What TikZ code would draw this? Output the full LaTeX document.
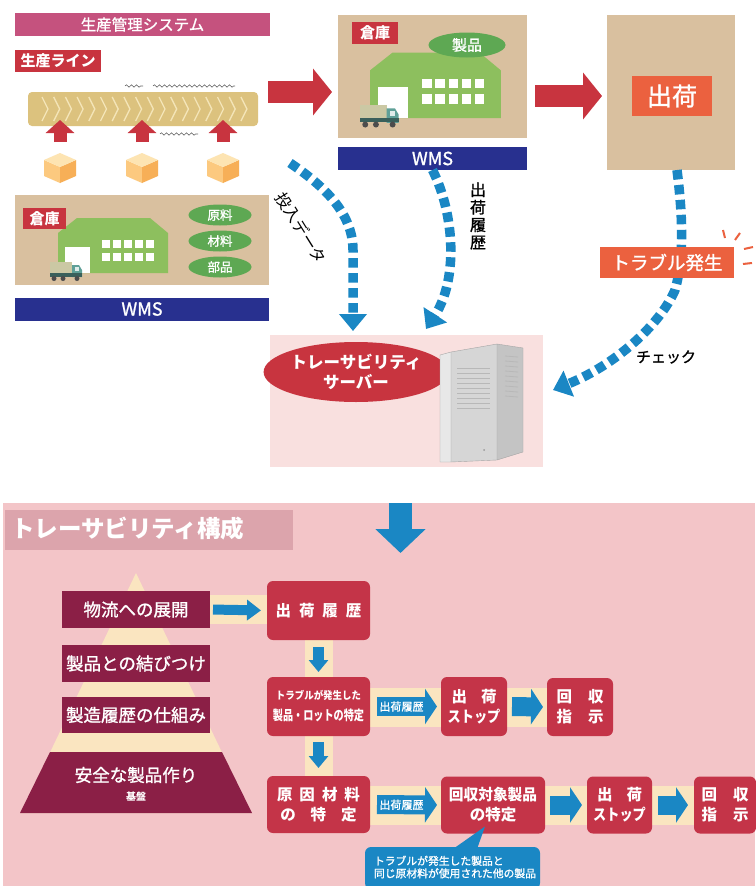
\documentclass[tikz,border=0pt]{standalone}
\usepackage{fontspec}
\setmainfont{Noto Sans CJK JP}
\newfontfamily\medfont{Noto Sans CJK JP}[FakeBold=1.2]
\usetikzlibrary{arrows.meta,calc,decorations.pathmorphing,shapes.geometric}

\definecolor{hdrpink}{HTML}{C5527E}
\definecolor{lblred}{HTML}{C8343F}
\definecolor{tanfill}{HTML}{D9C09F}
\definecolor{beltfill}{HTML}{DCC27E}
\definecolor{beltline}{HTML}{F4E5B8}
\definecolor{bldg}{HTML}{8DBF5E}
\definecolor{ovalg}{HTML}{5EA853}
\definecolor{wmsblue}{HTML}{28308F}
\definecolor{shipor}{HTML}{EB613F}
\definecolor{dotblue}{HTML}{1A87C4}
\definecolor{srvbg}{HTML}{F9E0DF}
\definecolor{bgpink}{HTML}{F3C5C8}
\definecolor{titlebar}{HTML}{DCA4AC}
\definecolor{wine}{HTML}{8B1F46}
\definecolor{flowred}{HTML}{C43448}
\definecolor{cream}{HTML}{FAE5C0}
\definecolor{cubetop}{HTML}{FDE4B2}
\definecolor{cubeleft}{HTML}{FCC97F}
\definecolor{cuberight}{HTML}{F7AF57}
\definecolor{truckbox}{HTML}{CBC8A4}
\definecolor{truckcab}{HTML}{5FA098}
\definecolor{srvfront}{HTML}{D6D6D6}
\definecolor{srvside}{HTML}{C4C4C4}
\definecolor{srvedge}{HTML}{E8E8E8}

\newcommand\fsz[2]{\fontsize{#1}{#2}\selectfont}
\newcommand\hsq[2]{\scalebox{#1}[1]{#2}}

\tikzset{
  plainbox/.style={inner sep=0pt, outer sep=0pt},
  tag/.style={plainbox, fill=lblred, text=white, font=\bfseries\fsz{15}{17}},
  tanrect/.style={plainbox, fill=tanfill},
  wmsbar/.style={plainbox, fill=wmsblue, text=white, minimum height=23pt, font=\medfont\fsz{18}{20}},
  greenoval/.style={plainbox, ellipse, fill=ovalg, text=white},
  orangetag/.style={plainbox, fill=shipor, text=white},
  redblock/.style={draw=lblred, line width=22pt, -{Triangle[width=46pt,length=19pt]}},
  redup/.style={draw=lblred, line width=13pt, -{Triangle[width=28pt,length=13pt]}},
  dotarrow/.style={draw=dotblue, line width=9.5pt, dash pattern=on 9.5pt off 5.5pt, -{Triangle[width=27pt,length=17pt]}},
  squiggle/.style={draw=black!60, line width=0.6pt, decorate, decoration={snake, amplitude=1.2pt, segment length=5pt}},
  pyrbox/.style={plainbox, fill=wine, text=white, minimum width=148pt, font=\medfont\fsz{17.5}{20}},
  flowbox/.style={plainbox, fill=flowred, text=white, rounded corners=6pt, align=center, font=\bfseries\fsz{15.5}{20}},
  flowarrow/.style={draw=dotblue, line width=19pt, -{Triangle[width=35pt,length=12pt]}},
  downarrow/.style={draw=dotblue, line width=11pt, -{Triangle[width=19pt,length=12pt]}},
  sidearrow/.style={draw=dotblue, line width=10pt, -{Triangle[width=20pt,length=14pt]}},
  bigdown/.style={draw=dotblue, line width=23pt, -{Triangle[width=49pt,length=24pt]}},
  glow/.style={fill=cream},
  arrowtext/.style={text=white, font=\medfont\fsz{11}{12}, inner sep=0pt},
  warehouse/.pic={
    \fill[bldg] (0,-40) -- (19,-55) -- (92,-55) -- (110,-40) -- (110,0) -- (0,0) -- cycle;
    \fill[white] (7,-26) rectangle (32,0);
    \foreach \i in {0,...,4}{
      \fill[white] ({44+11*\i},-33) rectangle ++(8,8);
      \fill[white] ({44+11*\i},-20) rectangle ++(8,8);
    }
    \fill[truckbox] (-8,-11) rectangle (14,0);
    \fill[truckcab] (14,-8) -- (21,-8) -- (24,-3) -- (24,4) -- (14,4) -- cycle;
    \fill[white!80!truckcab] (17,-6) rectangle (21,-2);
    \fill[truckcab!60!black] (-8,0) rectangle (24,3.5);
    \foreach \wx in {-4,5,19} \fill[black!70] (\wx,5.5) circle (2.5);
  },
  cube/.pic={
    \fill[cubeleft] (-16,7) -- (0,14) -- (0,30) -- (-16,23) -- cycle;
    \fill[cuberight] (0,14) -- (16,7) -- (16,23) -- (0,30) -- cycle;
    \fill[cubetop] (0,0) -- (16,7) -- (0,14) -- (-16,7) -- cycle;
  },
}

\begin{document}
\begin{tikzpicture}[x=1pt, y=-1pt, font=\fsz{14}{16}]
\useasboundingbox (0,0) rectangle (755,886);
\fill[white] (0,0) rectangle (755,886);

% ================= production side =================
\node[plainbox, fill=hdrpink, text=white, minimum width=255pt, minimum height=23pt,
      font=\medfont\fsz{15.5}{18}] (sys) at (142.5,24.5) {生産管理システム};
\node[tag, minimum width=86pt, minimum height=22pt] (linetag) at (58,61) {生産ライン};

% conveyor belt
\node[plainbox, fill=beltfill, rounded corners=4pt, minimum width=230pt, minimum height=34pt] (belt) at (143,109) {};
\foreach \i in {0,...,17}
  \draw[beltline, line width=1.3pt] ({42+11.7*\i},97) -- ++(6,12) -- ++(-6,12);
\draw[squiggle] (125,86) -- (143,86);
\draw[squiggle] (153,86) -- (235,86);
\draw[squiggle] (160,134) -- (198,134);

% parts fed into the line
\foreach \cx/\nm in {60/cubeA,142/cubeB,223/cubeC}{
  \pic at (\cx,153) {cube};
  \coordinate (\nm) at (\cx,153);
}
\foreach \nm in {cubeA,cubeB,cubeC}
  \draw[redup] ($(\nm)+(0,-11)$) -- ($(\nm)+(0,-33)$);

% raw-material warehouse
\node[tanrect, minimum width=254pt, minimum height=90pt] (whL) at (142,240) {};
\pic at (58,273) {warehouse};
\node[tag, minimum width=43pt, minimum height=21pt] (whLtag) at (44.5,218.5) {倉庫};
\node[greenoval, minimum width=63pt, minimum height=21pt, font=\medfont\fsz{12.5}{14}] (raw)  at (220,215) {原料};
\node[greenoval, minimum width=63pt, minimum height=21pt, font=\medfont\fsz{12.5}{14}] (mat)  at (220,241) {材料};
\node[greenoval, minimum width=63pt, minimum height=21pt, font=\medfont\fsz{12.5}{14}] (part) at (220,267) {部品};
\node[wmsbar, minimum width=254pt] (wmsL) at (142,309) {WMS};

% product warehouse
\node[tanrect, minimum width=189pt, minimum height=123pt] (whM) at (432.5,76) {};
\pic[scale=1.19] at (370,118) {warehouse};
\node[tag, minimum width=46pt, minimum height=22pt] (whMtag) at (375,33) {倉庫};
\node[greenoval, minimum width=77pt, minimum height=25pt, font=\medfont\fsz{15}{17}] (prod) at (467,45) {製品};
\node[wmsbar, minimum width=189pt] (wmsM) at (432.5,158.5) {WMS};

% shipping
\node[tanrect, minimum width=128pt, minimum height=155pt] (ship) at (671,92.5) {};
\node[orangetag, minimum width=80pt, minimum height=40pt, font=\medfont\fsz{25}{28}] (shiptag) at (672,96) {出荷};

% flow arrows along the top
\coordinate (a1s) at (268,92);
\coordinate (a2s) at (535,96);
\draw[redblock, shorten >=6pt] (a1s) -- (a1s -| whM.west);
\draw[redblock, shorten >=5pt] (a2s) -- (a2s -| ship.west);

% traceability server
\node[plainbox, fill=srvbg, minimum width=273pt, minimum height=132pt] (srv) at (406.5,401) {};
\node[plainbox, ellipse, fill=lblred, text=white, minimum width=172pt, minimum height=60pt,
      align=center, font=\bfseries\fsz{16.5}{20}] (tsrv) at (356,372) {トレーサビリティ\\サーバー};
\fill[srvedge] (440,355) -- (451,352) -- (451,462) -- (440,462) -- cycle;
\fill[srvfront] (451,352) -- (497,344) -- (497,460) -- (451,462) -- cycle;
\fill[srvside] (497,344) -- (523,348) -- (523,452) -- (497,460) -- cycle;
\draw[black!35, line width=0.4pt, line join=round] (440,355) -- (451,352) -- (497,344) -- (523,348)
      -- (523,452) -- (497,460) -- (451,462) -- (440,462) -- cycle
      (451,352) -- (451,462) (497,344) -- (497,460);
\foreach \k in {0,...,8}
  \draw[black!28, line width=1pt] (457,{368+5*\k}) -- (490,{368+5*\k});
\foreach \k in {0,...,8}
  \draw[black!28, line width=0.8pt] (505,{356+5*\k}) -- (518,{357+5*\k});
\fill[black!40] (484,450) circle (1pt);

% data links to the server
\coordinate (feed) at (290,163);
\coordinate (feedEnd) at (353,331);
\coordinate (histEnd) at (426,329);
\coordinate (chkEnd) at (553,390);
\draw[dotarrow] (feed) .. controls (318,182) and (353,210) .. (353,250) -- (feedEnd);
\draw[dotarrow] (wmsM.south) .. controls (455,215) and (458,280) .. (histEnd);
\draw[dotarrow] ([xshift=6pt]ship.south) .. controls (682,210) and (685,255) .. (675,290)
      .. controls (660,325) and (615,365) .. (chkEnd);

\node[orangetag, minimum width=134pt, minimum height=31pt, font=\medfont\fsz{18.5}{20}] (trouble) at (667,262.5) {トラブル発生};
\foreach \p/\q in {{(723,230)}/{(725,238)}, {(740,233)}/{(735,240)}, {(753,247)}/{(744,249)}, {(752,263)}/{(743,264)}}
  \draw[shipor, line width=2pt] \p -- \q;

\node[rotate=-58, font=\fsz{16}{18}] (lblfeed) at (301,228) {投入データ};
\node[align=center, font=\medfont\fsz{16}{17.5}] (lblhist) at (478,216) {出\\荷\\履\\歴};
\node[font=\medfont\fsz{15}{17}] (lblchk) at (666,357) {チェック};

% ================= traceability structure =================
\fill[bgpink] (3,503) rectangle (755,886);
\coordinate (dnS) at (400.5,503);
\coordinate (dnE) at (400.5,553);
\draw[bigdown] (dnS) -- (dnE);

\node[plainbox, fill=titlebar, minimum width=288pt, minimum height=40pt] (tbar) at (149,530) {};
\node[anchor=west, plainbox, text=white, font=\bfseries\fsz{23.5}{26}] (ttext) at (11,529) {トレーサビリティ構成};

% pyramid
\fill[cream] (136,573) -- (251,813) -- (21,813) -- cycle;
\fill[wine] (50,752) -- (222,752) -- (252,813) -- (20,813) -- cycle;
\node[text=white, font=\medfont\fsz{17.5}{20}] (base) at (136,775) {安全な製品作り};
\node[text=white, font=\bfseries\fsz{10}{11}] (baselbl) at (136,797) {基盤};

% glow strips behind the connectors
\fill[glow] (210,595) rectangle (268,624);
\fill[glow] (305,640) rectangle (333,678);
\fill[glow] (370,688) rectangle (442,727);
\fill[glow] (507,688) rectangle (548,727);
\fill[glow] (305,735) rectangle (333,777);
\fill[glow] (370,786) rectangle (442,825);
\fill[glow] (545,786) rectangle (588,825);
\fill[glow] (652,786) rectangle (695,825);

\node[pyrbox, minimum height=37pt] (p1) at (136,609.5) {物流への展開};
\node[pyrbox, minimum height=37pt] (p2) at (136,663.5) {製品との結びつけ};
\node[pyrbox, minimum height=36pt] (p3) at (136,715) {製造履歴の仕組み};

% flow boxes
\node[flowbox, minimum width=103pt, minimum height=59pt] (f1) at (318.5,610.5)
  {出\hspace{8pt}荷\hspace{8pt}履\hspace{8pt}歴};
\node[flowbox, minimum width=103pt, minimum height=59pt] (f2) at (318.5,706.5)
  {{\fsz{10.5}{12}\hsq{0.9}{トラブルが発生した}}\\[1pt]{\fsz{13.5}{15}\hsq{0.75}{製品・ロットの特定}}};
\node[flowbox, minimum width=66pt, minimum height=59pt] (f3) at (474,706.5)
  {出\hspace{14pt}荷\\\hsq{0.85}{ストップ}};
\node[flowbox, minimum width=66pt, minimum height=58pt] (f4) at (580,707)
  {回\hspace{16pt}収\\指\hspace{16pt}示};
\node[flowbox, minimum width=103pt, minimum height=57pt] (f5) at (318.5,804.5)
  {原\hspace{7pt}因\hspace{7pt}材\hspace{7pt}料\\の\hspace{15pt}特\hspace{15pt}定};
\node[flowbox, minimum width=104pt, minimum height=57pt] (f6) at (493,805)
  {\hsq{0.95}{回収対象製品}\\の特定};
\node[flowbox, minimum width=65pt, minimum height=57pt] (f7) at (619.5,805)
  {出\hspace{14pt}荷\\\hsq{0.85}{ストップ}};
\node[flowbox, minimum width=62pt, minimum height=57pt] (f8) at (725,805)
  {回\hspace{16pt}収\\指\hspace{16pt}示};

% connectors between the boxes
\draw[sidearrow, shorten <=3pt, shorten >=6pt] (p1.east) -- (f1.west);
\draw[downarrow, shorten <=7pt, shorten >=5pt] (f1.south) -- (f2.north);
\draw[downarrow, shorten <=6pt, shorten >=8pt] (f2.south) -- (f5.north);
\draw[flowarrow, shorten <=7pt, shorten >=4pt] (f2.east) -- node[arrowtext, xshift=-4pt] (h1) {出荷履歴} (f3.west);
\draw[flowarrow, shorten <=5pt, shorten >=4pt] (f3.east) -- (f4.west);
\draw[flowarrow, shorten <=7pt, shorten >=4pt] (f5.east) -- node[arrowtext, xshift=-4pt] (h2) {出荷履歴} (f6.west);
\draw[flowarrow, shorten <=5pt, shorten >=5pt] (f6.east) -- (f7.west);
\draw[flowarrow, shorten <=6pt, shorten >=6pt] (f7.east) -- (f8.west);

% callout for the recall targets
\node[plainbox, fill=dotblue, rounded corners=6pt, minimum width=175pt, minimum height=42pt] (note) at (452.5,868) {};
\node[plainbox, text=white, align=left, font=\medfont\fsz{10.8}{12.5}] (notetext) at (455,867)
  {トラブルが発生した製品と\\同じ原材料が使用された他の製品};
\fill[dotblue] ($(note.north)+(0.5,2)$) -- ($(f6.south)+(-8,-7)$) -- ($(note.north)+(24.5,2)$) -- cycle;

\end{tikzpicture}
\end{document}
